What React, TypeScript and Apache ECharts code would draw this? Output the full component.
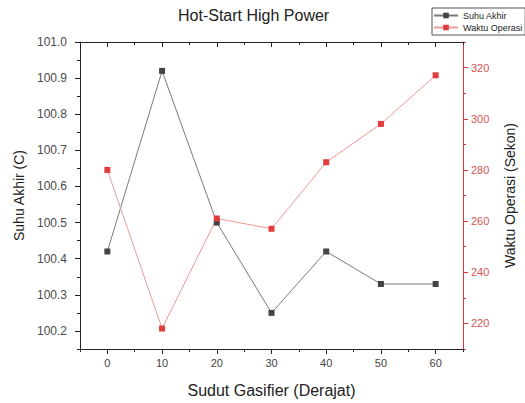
import React, { useEffect, useRef } from 'react';
import * as echarts from 'echarts';

const angles = [0, 10, 20, 30, 40, 50, 60];
const suhuAkhir = [100.42, 100.92, 100.5, 100.25, 100.42, 100.33, 100.33];
const waktuOperasi = [280, 218, 261, 257, 283, 298, 317];

const xMajorTicks = [0, 10, 20, 30, 40, 50, 60];
const xMinorTicks = [-5, 5, 15, 25, 35, 45, 55, 65];
const leftMajorTicks = [100.2, 100.3, 100.4, 100.5, 100.6, 100.7, 100.8, 100.9, 101.0];
const leftMinorTicks = [100.15, 100.25, 100.35, 100.45, 100.55, 100.65, 100.75, 100.85, 100.95];
const rightMajorTicks = [220, 240, 260, 280, 300, 320];
const rightMinorTicks = [210, 230, 250, 270, 290, 310, 330];

const FONT = '"Liberation Sans", Arial, sans-serif';

export default function App() {
  const ref = useRef<HTMLDivElement>(null);
  useEffect(() => {
    const chart = echarts.init(ref.current!, null, { renderer: 'svg' });
    const dark = '#222222';
    const red = '#d83a3a';
    const xBase = { type: 'value', min: -5, max: 65, splitLine: { show: false } };
    const yLeftBase = { type: 'value', min: 100.15, max: 101.0, splitLine: { show: false } };
    const yRightBase = { type: 'value', min: 210, max: 330, splitLine: { show: false } };
    const option: any = {
      animation: false,
      textStyle: { fontFamily: FONT },
      title: {
        text: 'Hot-Start High Power',
        left: 178,
        top: 7,
        padding: 0,
        textStyle: { fontSize: 16, fontWeight: 'normal', color: dark, fontFamily: FONT },
      },
      legend: {
        data: ['Suhu Akhir', 'Waktu Operasi'],
        orient: 'vertical',
        left: 432,
        top: 8,
        itemWidth: 24,
        itemHeight: 7,
        itemGap: 3,
        padding: [3, 3, 3, 1],
        borderColor: '#555',
        borderWidth: 1,
        textStyle: { fontSize: 9, color: dark, fontFamily: FONT },
      },
      grid: { left: 80, top: 42, width: 385, height: 311 },
      xAxis: [
        {
          ...xBase,
          position: 'bottom',
          name: 'Sudut Gasifier (Derajat)',
          nameLocation: 'middle',
          nameGap: 33,
          nameTextStyle: { fontSize: 16, color: dark, fontFamily: FONT },
          axisLine: { show: true, onZero: false, lineStyle: { color: dark, width: 1 } },
          axisTick: { show: true, customValues: xMajorTicks, length: 5, lineStyle: { color: dark } },
          axisLabel: { customValues: xMajorTicks, fontSize: 11, color: '#444', margin: 8 },
        },
        {
          ...xBase,
          position: 'bottom',
          axisLine: { show: false, onZero: false },
          axisTick: { show: true, customValues: xMinorTicks, length: 3, lineStyle: { color: dark } },
          axisLabel: { show: false },
        },
        {
          ...xBase,
          position: 'top',
          axisLine: { show: true, onZero: false, lineStyle: { color: dark, width: 1 } },
          axisTick: { show: true, inside: true, customValues: xMajorTicks, length: 5, lineStyle: { color: dark } },
          axisLabel: { show: false },
        },
        {
          ...xBase,
          position: 'top',
          axisLine: { show: false, onZero: false },
          axisTick: { show: true, inside: true, customValues: xMinorTicks, length: 3, lineStyle: { color: dark } },
          axisLabel: { show: false },
        },
      ],
      yAxis: [
        {
          ...yLeftBase,
          position: 'left',
          name: 'Suhu Akhir (C)',
          nameLocation: 'middle',
          nameGap: 53,
          nameTextStyle: { fontSize: 14, color: dark, fontFamily: FONT },
          axisLine: { show: true, onZero: false, lineStyle: { color: dark, width: 1 } },
          axisTick: { show: true, customValues: leftMajorTicks, length: 5, lineStyle: { color: dark } },
          axisLabel: {
            customValues: leftMajorTicks,
            fontSize: 12,
            color: '#4a4a4a',
            margin: 13,
            formatter: (v: number) => v.toFixed(1),
          },
        },
        {
          ...yLeftBase,
          position: 'left',
          axisLine: { show: false, onZero: false },
          axisTick: { show: true, customValues: leftMinorTicks, length: 3, lineStyle: { color: dark } },
          axisLabel: { show: false },
        },
        {
          ...yRightBase,
          position: 'right',
          name: 'Waktu Operasi (Sekon)',
          nameLocation: 'middle',
          nameGap: 40,
          nameTextStyle: { fontSize: 14, color: dark, fontFamily: FONT },
          axisLine: { show: true, onZero: false, lineStyle: { color: red, width: 1 } },
          axisTick: { show: true, customValues: rightMajorTicks, length: 5, lineStyle: { color: red } },
          axisLabel: { customValues: rightMajorTicks, fontSize: 11, color: '#d9534f', margin: 8 },
        },
        {
          ...yRightBase,
          position: 'right',
          axisLine: { show: false, onZero: false },
          axisTick: { show: true, customValues: rightMinorTicks, length: 3, lineStyle: { color: red } },
          axisLabel: { show: false },
        },
      ],
      series: [
        {
          name: 'Suhu Akhir',
          type: 'line',
          xAxisIndex: 0,
          yAxisIndex: 0,
          data: angles.map((a, i) => [a, suhuAkhir[i]]),
          symbol: 'rect',
          symbolSize: 6,
          itemStyle: { color: '#444444' },
          lineStyle: { color: '#7a7a7a', width: 1 },
        },
        {
          name: 'Waktu Operasi',
          type: 'line',
          xAxisIndex: 0,
          yAxisIndex: 2,
          data: angles.map((a, i) => [a, waktuOperasi[i]]),
          symbol: 'rect',
          symbolSize: 6,
          itemStyle: { color: '#e03c3c' },
          lineStyle: { color: '#eb9a9a', width: 1 },
        },
      ],
    };
    chart.setOption(option);
    return () => chart.dispose();
  }, []);
  return (
    <div
      ref={ref}
      style={{ position: 'fixed', left: 0, top: 0, width: 525, height: 403, background: '#fff' }}
    />
  );
}
